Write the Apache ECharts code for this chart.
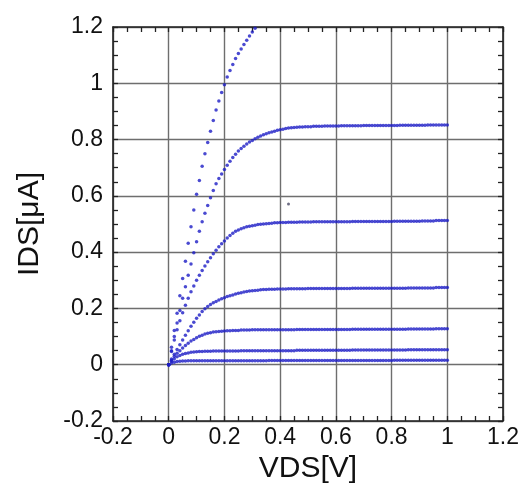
<!DOCTYPE html>
<html><head><meta charset="utf-8">
<script src="https://cdn.jsdelivr.net/npm/echarts@6/dist/echarts.min.js"></script>
<style>html,body{margin:0;padding:0;background:#fff}#c{width:522px;height:489px}</style>
</head><body><div id="c"></div>
<script>
// VDS sweep [V]
const VDS = [0,0.01,0.02,0.03,0.04,0.05,0.06,0.07,0.08,0.09,0.1,0.11,0.12,0.13,0.14,0.15,0.16,0.17,0.18,0.19,0.2,0.21,0.22,0.23,0.24,0.25,0.26,0.27,0.28,0.29,0.3,0.31,0.32,0.33,0.34,0.35,0.36,0.37,0.38,0.39,0.4,0.41,0.42,0.43,0.44,0.45,0.46,0.47,0.48,0.49,0.5,0.51,0.52,0.53,0.54,0.55,0.56,0.57,0.58,0.59,0.6,0.61,0.62,0.63,0.64,0.65,0.66,0.67,0.68,0.69,0.7,0.71,0.72,0.73,0.74,0.75,0.76,0.77,0.78,0.79,0.8,0.81,0.82,0.83,0.84,0.85,0.86,0.87,0.88,0.89,0.9,0.91,0.92,0.93,0.94,0.95,0.96,0.97,0.98,0.99,1];
// IDS [uA] per curve
const ids1 = [0,0.062,0.122,0.183,0.245,0.306,0.368,0.432,0.49,0.55,0.606,0.655,0.705,0.75,0.79,0.83,0.868,0.905,0.937,0.967,0.995,1.022,1.045,1.067,1.088,1.106,1.122,1.138,1.153,1.168,1.182,1.196];
const ids2 = [0,0.05,0.1,0.148,0.193,0.236,0.277,0.318,0.358,0.398,0.437,0.474,0.508,0.538,0.566,0.593,0.619,0.643,0.662,0.678,0.694,0.709,0.723,0.736,0.748,0.759,0.768,0.776,0.784,0.791,0.797,0.803,0.808,0.813,0.817,0.821,0.824,0.827,0.83,0.833,0.835,0.837,0.839,0.841,0.842,0.843,0.844,0.845,0.845,0.846,0.846,
  0.846,0.847,0.847,0.847,0.847,0.848,0.848,0.848,0.848,0.848,
  0.848,0.849,0.849,0.849,0.849,0.849,0.849,0.849,0.849,0.85,
  0.85,0.85,0.85,0.85,0.85,0.85,0.85,0.85,0.85,0.85,
  0.85,0.85,0.851,0.851,0.851,0.851,0.851,0.851,0.851,0.851,
  0.851,0.851,0.852,0.852,0.852,0.852,0.852,0.852,0.852,0.852];
const ids3 = [0,0.047,0.088,0.124,0.156,0.185,0.211,0.236,0.259,0.28,0.3,0.318,0.335,0.351,0.366,0.38,0.394,0.407,0.419,0.43,0.44,0.45,0.459,0.467,0.474,0.479,0.483,0.487,0.49,0.492,0.494,0.496,0.498,0.499,0.5,0.501,0.502,0.503,0.504,0.504,0.505,
  0.505,0.505,0.506,0.506,0.506,0.506,0.507,0.507,0.507,0.507,
  0.507,0.508,0.508,0.508,0.508,0.508,0.508,0.508,0.508,0.508,
  0.508,0.508,0.508,0.508,0.508,0.509,0.509,0.509,0.509,0.509,
  0.509,0.509,0.509,0.509,0.509,0.509,0.509,0.509,0.509,0.509,
  0.51,0.51,0.51,0.51,0.51,0.51,0.51,0.51,0.51,0.51,
  0.511,0.511,0.511,0.511,0.511,0.512,0.512,0.512,0.512,0.512];
const ids4 = [0,0.02,0.037,0.054,0.071,0.088,0.105,0.121,0.137,0.151,0.165,0.177,0.189,0.199,0.207,0.214,0.22,0.225,0.23,0.234,0.238,0.242,0.245,0.248,0.251,0.254,0.256,0.258,0.26,0.262,0.263,0.264,0.265,0.266,0.267,0.267,0.268,0.268,0.268,0.269,0.269,
  0.269,0.269,0.27,0.27,0.27,0.27,0.27,0.27,0.27,0.271,
  0.271,0.271,0.271,0.271,0.271,0.271,0.271,0.271,0.271,0.271,
  0.271,0.271,0.271,0.271,0.271,0.272,0.272,0.272,0.272,0.272,
  0.272,0.272,0.272,0.272,0.272,0.272,0.272,0.272,0.272,0.272,
  0.272,0.272,0.272,0.272,0.272,0.273,0.273,0.273,0.273,0.273,
  0.273,0.273,0.273,0.273,0.273,0.274,0.274,0.274,0.274,0.274];
const ids5 = [0,0.016,0.03,0.041,0.05,0.059,0.068,0.076,0.084,0.09,0.096,0.101,0.105,0.109,0.112,0.114,0.116,0.117,0.118,0.119,0.12,0.121,0.121,0.122,0.122,0.122,0.123,0.123,0.123,0.123,0.124,
  0.124,0.124,0.124,0.124,0.124,0.124,0.124,0.124,0.124,0.124,
  0.124,0.124,0.124,0.124,0.124,0.125,0.125,0.125,0.125,0.125,
  0.125,0.125,0.125,0.125,0.125,0.125,0.125,0.125,0.125,0.125,
  0.125,0.125,0.125,0.125,0.125,0.126,0.126,0.126,0.126,0.126,
  0.126,0.126,0.126,0.126,0.126,0.126,0.126,0.126,0.126,0.126,
  0.126,0.126,0.126,0.126,0.126,0.127,0.127,0.127,0.127,0.127,
  0.127,0.127,0.127,0.127,0.127,0.128,0.128,0.128,0.128,0.128];
const ids6 = [0,0.012,0.021,0.028,0.033,0.037,0.04,0.042,0.044,0.045,0.046,0.047,0.047,0.048,0.048,0.048,0.049,0.049,0.049,0.049,0.049,
  0.049,0.049,0.049,0.049,0.049,0.05,0.05,0.05,0.05,0.05,
  0.05,0.05,0.05,0.05,0.05,0.05,0.05,0.05,0.05,0.05,
  0.05,0.05,0.05,0.05,0.05,0.051,0.051,0.051,0.051,0.051,
  0.051,0.051,0.051,0.051,0.051,0.051,0.051,0.051,0.051,0.051,
  0.051,0.051,0.051,0.051,0.051,0.052,0.052,0.052,0.052,0.052,
  0.052,0.052,0.052,0.052,0.052,0.052,0.052,0.052,0.052,0.052,
  0.052,0.052,0.052,0.052,0.052,0.053,0.053,0.053,0.053,0.053,
  0.053,0.053,0.053,0.053,0.053,0.053,0.053,0.053,0.053,0.053];
const ids7 = [0,0.006,0.009,0.011,0.012,0.013,0.013,0.014,0.014,0.014,0.014,
  0.014,0.014,0.014,0.014,0.014,0.014,0.014,0.014,0.014,0.014,
  0.014,0.014,0.014,0.014,0.014,0.014,0.014,0.014,0.014,0.014,
  0.014,0.014,0.014,0.014,0.014,0.015,0.015,0.015,0.015,0.015,
  0.015,0.015,0.015,0.015,0.015,0.015,0.015,0.015,0.015,0.015,
  0.015,0.015,0.015,0.015,0.015,0.015,0.015,0.015,0.015,0.015,
  0.015,0.015,0.015,0.015,0.015,0.015,0.015,0.015,0.015,0.015,
  0.015,0.015,0.015,0.015,0.015,0.015,0.015,0.015,0.015,0.015,
  0.016,0.016,0.016,0.016,0.016,0.016,0.016,0.016,0.016,0.016,
  0.016,0.016,0.016,0.016,0.016,0.016,0.016,0.016,0.016,0.016];
const strayX = [0.43];
const strayY = [0.571];
const xTicks = ['-0.2','0','0.2','0.4','0.6','0.8','1','1.2'];

const curves = [ids1, ids2, ids3, ids4, ids5, ids6, ids7];
const FONT = '"Liberation Sans", Arial, sans-serif';
const DOT = '#1d1dc6';

const series = curves.map(vals => ({
  type: 'scatter', xAxisIndex: 0, yAxisIndex: 0,
  symbol: 'circle', symbolSize: 3.5, clip: true,
  itemStyle: { color: DOT },
  data: vals.map((v, i) => [VDS[i], v])
}));
series.push({
  type: 'scatter', xAxisIndex: 0, yAxisIndex: 0, symbolSize: 3,
  itemStyle: { color: '#4a4a66' },
  data: strayX.map((x, i) => [x, strayY[i]])
});

function axisBase(extra) {
  return Object.assign({
    type: 'value', min: -0.2, max: 1.2, interval: 0.2,
    axisLine: { show: true, onZero: false, lineStyle: { color: '#222', width: 1.6 } },
    axisTick: { show: true, inside: true, length: 5, lineStyle: { color: '#222', width: 1.3 } },
    minorTick: { show: true, splitNumber: 4, length: 5, lineStyle: { color: '#222', width: 1.3 } },
    splitLine: { show: false }
  }, extra);
}
const labelStyle = { fontSize: 23, color: '#111', fontFamily: FONT };
const fmt = v => { const r = Math.round(v * 10) / 10; return String(r); };

const chart = echarts.init(document.getElementById('c'), null, { renderer: 'canvas' });
chart.setOption({
  animation: false,
  backgroundColor: '#fff',
  grid: { left: 113, right: 18, top: 27, bottom: 68, containLabel: false },
  xAxis: [
    axisBase({ position: 'bottom',
      axisLabel: Object.assign({ margin: 5, formatter: fmt }, labelStyle),
      splitLine: { show: true, lineStyle: { color: '#6e6e6e', width: 1.4 } },
      name: 'VDS[V]', nameLocation: 'middle', nameGap: 33,
      nameTextStyle: { fontSize: 30, color: '#111', fontFamily: FONT } }),
    axisBase({ position: 'top', axisLabel: { show: false } })
  ],
  yAxis: [
    axisBase({ position: 'left',
      axisLabel: Object.assign({ margin: 10, formatter: fmt }, labelStyle),
      splitLine: { show: true, lineStyle: { color: '#6e6e6e', width: 1.4 } },
      name: 'IDS[μA]', nameLocation: 'middle', nameGap: 68,
      nameTextStyle: { fontSize: 30, color: '#111', fontFamily: FONT } }),
    axisBase({ position: 'right', axisLabel: { show: false } })
  ],
  series: series
});
</script></body></html>
